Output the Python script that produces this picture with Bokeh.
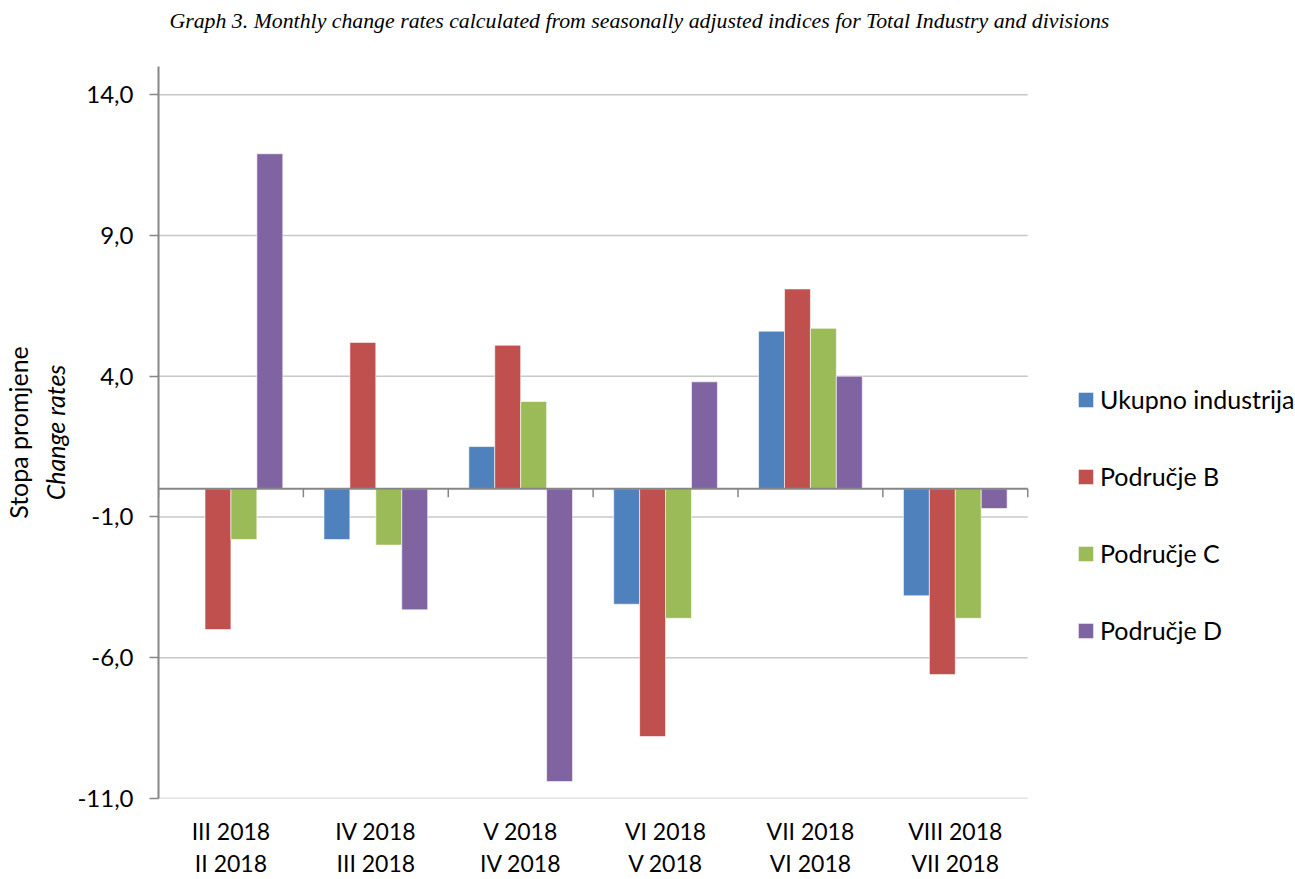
from bokeh.plotting import figure
from bokeh.models import (Range1d, FixedTicker, CustomJSTickFormatter,
                          Legend, LegendItem, ColumnDataSource, Title)
from bokeh.transform import dodge
from bokeh.embed import file_html
from bokeh.resources import INLINE

# ---- data ----
categories = ["III 2018\nII 2018", "IV 2018\nIII 2018", "V 2018\nIV 2018",
              "VI 2018\nV 2018", "VII 2018\nVI 2018", "VIII 2018\nVII 2018"]
series_names = ["Ukupno industrija", "Područje B", "Područje C", "Područje D"]
ukupno = [0.0, -1.8, 1.5, -4.1, 5.6, -3.8]
podrucje_b = [-5.0, 5.2, 5.1, -8.8, 7.1, -6.6]
podrucje_c = [-1.8, -2.0, 3.1, -4.6, 5.7, -4.6]
podrucje_d = [11.9, -4.3, -10.4, 3.8, 4.0, -0.7]
y_ticks = [-11, -6, -1, 4, 9, 14]
y_min, y_max = -11, 15
subtitle = "Graph 3. Monthly change rates calculated from seasonally adjusted indices for Total Industry and divisions"
ytitle_hr = "Stopa promjene"
ytitle_en = "Change rates"

colors = ["#4F81BD", "#C0504D", "#9BBB59", "#8064A2"]
FONT = "Lato"

# ---- layout constants ----
W, H = 1295, 879
LEFT, TOP, BOTTOM = 157, 65, 79
PLOT_W = 870                      # width occupied by the categories
n = len(categories)
centers = [i + 0.5 for i in range(n)]
x_end = n * (W - LEFT) / PLOT_W   # extra room on the right holds the legend

src = ColumnDataSource(data=dict(x=centers, s0=ukupno, s1=podrucje_b,
                                 s2=podrucje_c, s3=podrucje_d))

p = figure(x_range=Range1d(0, x_end), y_range=Range1d(y_min, y_max),
           width=W, height=H,
           min_border_left=LEFT, min_border_right=0,
           min_border_top=TOP, min_border_bottom=BOTTOM,
           output_backend="svg", toolbar_location=None)
p.outline_line_color = None
p.background_fill_color = "white"
p.border_fill_color = "white"

# subtitle (an empty second line keeps it near the top edge)
p.title.text = subtitle + "\n "
p.title.align = "left"
p.title.offset = 11
p.title.vertical_align = "top"
p.title.standoff = 16
p.title.text_line_height = 1.0
p.title.text_font = "Liberation Serif"
p.title.text_font_size = "21.8px"
p.title.text_font_style = "italic"
p.title.text_color = "black"

# y axis
p.yaxis.ticker = FixedTicker(ticks=y_ticks)
p.yaxis.formatter = CustomJSTickFormatter(code="return tick.toFixed(1).replace('.', ',');")
p.yaxis.major_label_text_font = FONT
p.yaxis.major_label_text_font_size = "24px"
p.yaxis.major_label_text_color = "black"
p.yaxis.axis_line_color = "#868686"
p.yaxis.axis_line_width = 2
p.yaxis.major_tick_line_color = "#868686"
p.yaxis.major_tick_line_width = 1.5
p.yaxis.major_tick_out = 9
p.yaxis.major_tick_in = 0
p.yaxis.minor_tick_line_color = None
p.yaxis.major_label_standoff = 16

p.ygrid.grid_line_color = None
p.xgrid.grid_line_color = None

# x axis (category labels)
p.xaxis.ticker = FixedTicker(ticks=centers)
p.xaxis.major_label_overrides = {c: lab for c, lab in zip(centers, categories)}
p.xaxis.axis_line_color = None
p.xaxis.major_tick_line_color = None
p.xaxis.minor_tick_line_color = None
p.xaxis.major_label_text_font = FONT
p.xaxis.major_label_text_font_size = "23px"
p.xaxis.major_label_text_line_height = 1.15
p.xaxis.major_label_text_color = "black"
p.xaxis.major_label_standoff = 12

# y axis titles (inner: English italic, outer: Croatian)
p.add_layout(Title(text=ytitle_en, align="center", text_font=FONT, text_font_size="25px",
                   text_font_style="italic", text_color="black", standoff=10), "left")
p.add_layout(Title(text=ytitle_hr, align="center", text_font=FONT, text_font_size="25px",
                   text_font_style="normal", text_color="black", standoff=0), "left")

# horizontal gridlines limited to the category area
grid_src = ColumnDataSource(data=dict(y=y_ticks))
p.segment(x0=0, x1=n, y0="y", y1="y", source=grid_src,
          line_color="#c8c8c8", line_width=1.5)

# bars
bar_w = 0.179
offsets = [-1.5 * bar_w, -0.5 * bar_w, 0.5 * bar_w, 1.5 * bar_w]
items = []
for i, (name, col) in enumerate(zip(series_names, colors)):
    r = p.vbar(x=dodge("x", offsets[i]), top="s%d" % i, bottom=0,
               width=bar_w, source=src, fill_color=col, line_color="white",
               line_alpha=0.6, line_width=1)
    items.append(LegendItem(label=name, renderers=[r]))

# category axis line at zero with boundary tick marks
p.segment(x0=0, x1=n, y0=0, y1=0, line_color="#868686", line_width=2)
tick_src = ColumnDataSource(data=dict(x=list(range(n + 1))))
p.segment(x0="x", x1="x", y0=0, y1=-0.3, source=tick_src,
          line_color="#868686", line_width=1.5)

legend = Legend(items=items, location=(918, 152), orientation="vertical",
                border_line_color=None, background_fill_alpha=0,
                padding=0, margin=0, spacing=45,
                glyph_width=19, glyph_height=19, label_standoff=5,
                label_text_font=FONT, label_text_font_size="25px",
                label_height=32, label_text_color="black")
p.add_layout(legend)

open("out.html", "w").write(file_html(p, INLINE))
